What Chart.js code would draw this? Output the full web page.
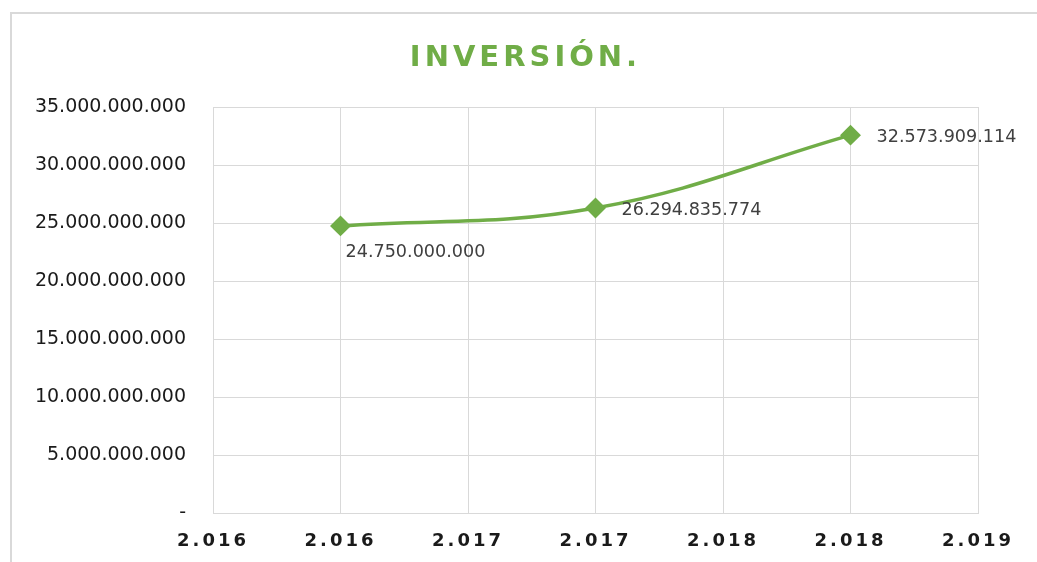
<!DOCTYPE html>
<html>
<head>
<meta charset="utf-8">
<script src="https://cdn.jsdelivr.net/npm/chart.js@4.4.1/dist/chart.umd.min.js"></script>
<style>
  html, body { margin: 0; padding: 0; background: #ffffff; }
  #frame { position: absolute; left: 0; top: 0; width: 1037px; height: 562px; overflow: hidden; }
  #border { position: absolute; left: 10px; top: 12px; width: 1200px; height: 700px; border: 2px solid #d9d9d9; }
  #wrap { position: absolute; left: 0; top: 0; width: 1037px; height: 562px; }
</style>
</head>
<body>
<div id="frame">
  <div id="border"></div>
  <div id="wrap"><canvas id="c" width="1037" height="562"></canvas></div>
</div>
<script>
// ---- data ----
const chartTitle = 'INVERSIÓN.';
const years = [2016, 2017, 2018];
const inversion = [24750000000, 26294835774, 32573909114];
const dataLabels = ['24.750.000.000', '26.294.835.774', '32.573.909.114'];
const labelPlacement = ['below', 'right', 'right'];
const xTickValues = [2015.5, 2016, 2016.5, 2017, 2017.5, 2018, 2018.5];
const xTickLabels = ['2.016', '2.016', '2.017', '2.017', '2.018', '2.018', '2.019'];
const yTickValues = [0, 5000000000, 10000000000, 15000000000, 20000000000, 25000000000, 30000000000, 35000000000];
const yTickLabels = ['-', '5.000.000.000', '10.000.000.000', '15.000.000.000', '20.000.000.000', '25.000.000.000', '30.000.000.000', '35.000.000.000'];

const GREEN = '#70AD47';
const GRID = '#d9d9d9';

const spacingPlugin = {
  id: 'spacing',
  beforeDraw(chart) {
    const tb = chart.titleBlock;
    if (tb && !tb._lsWrapped) {
      const orig = tb.draw.bind(tb);
      tb.draw = function (area) {
        const ctx = this.ctx;
        const dx = chart.width / 2 + 7 - (this.left + this.right) / 2;
        ctx.save(); ctx.translate(dx, 0); ctx.letterSpacing = '4px'; orig(area); ctx.restore();
      };
      tb._lsWrapped = true;
    }
    const xs = chart.scales.x;
    if (xs && !xs._lsWrapped) {
      const origL = xs.drawLabels.bind(xs);
      xs.drawLabels = function (area) { const ctx = this.ctx; ctx.save(); ctx.letterSpacing = '3px'; origL(area); ctx.restore(); };
      xs._lsWrapped = true;
    }
  }
};

const labelPlugin = {
  id: 'pointLabels',
  afterDatasetsDraw(chart) {
    const ctx = chart.ctx;
    const meta = chart.getDatasetMeta(0);
    ctx.save();
    ctx.font = '17.6px "DejaVu Sans"';
    ctx.fillStyle = '#404040';
    ctx.textAlign = 'left';
    ctx.textBaseline = 'middle';
    meta.data.forEach((pt, i) => {
      const p = labelPlacement[i];
      if (p === 'below') {
        ctx.fillText(dataLabels[i], pt.x + 5, pt.y + 27);
      } else {
        ctx.fillText(dataLabels[i], pt.x + 26, pt.y + 2);
      }
    });
    ctx.restore();
  }
};

new Chart(document.getElementById('c'), {
  type: 'line',
  data: {
    datasets: [{
      label: 'Inversión',
      data: years.map((y, i) => ({ x: y, y: inversion[i] })),
      borderColor: GREEN,
      backgroundColor: GREEN,
      borderWidth: 3.5,
      tension: 0.4,
      cubicInterpolationMode: 'default',
      pointStyle: 'rectRot',
      pointRadius: 8,
      pointHoverRadius: 8,
      pointBackgroundColor: GREEN,
      pointBorderColor: GREEN,
      fill: false
    }]
  },
  options: {
    responsive: false,
    animation: false,
    events: [],
    layout: { padding: { top: 0, right: 59, bottom: 0, left: 0 } },
    plugins: {
      legend: { display: false },
      tooltip: { enabled: false },
      title: {
        display: true,
        text: chartTitle,
        color: GREEN,
        font: { family: '"DejaVu Sans"', size: 29, weight: 'bold', lineHeight: 1.2 },
        padding: { top: 41, bottom: 31.2 }
      }
    },
    scales: {
      x: {
        type: 'linear',
        min: 2015.5,
        max: 2018.5,
        afterBuildTicks(s) { s.ticks = xTickValues.map(v => ({ value: v })); },
        afterFit(s) { s.height = 49; },
        ticks: {
          autoSkip: false,
          maxRotation: 0,
          padding: 18,
          color: '#1a1a1a',
          font: { family: '"DejaVu Sans"', size: 18, weight: 'bold' },
          callback: (v, i) => xTickLabels[i]
        },
        grid: { color: GRID, lineWidth: 1, drawTicks: false },
        border: { color: GRID, width: 1 }
      },
      y: {
        type: 'linear',
        min: 0,
        max: 35000000000,
        afterBuildTicks(s) { s.ticks = yTickValues.map(v => ({ value: v })); },
        afterFit(s) { s.width = 213; },
        ticks: {
          autoSkip: false,
          padding: 27,
          color: '#1a1a1a',
          font: { family: '"DejaVu Sans"', size: 19 },
          callback: (v, i) => yTickLabels[i]
        },
        grid: { color: GRID, lineWidth: 1, drawTicks: false },
        border: { color: GRID, width: 1 }
      }
    }
  },
  plugins: [spacingPlugin, labelPlugin]
});
</script>
</body>
</html>
